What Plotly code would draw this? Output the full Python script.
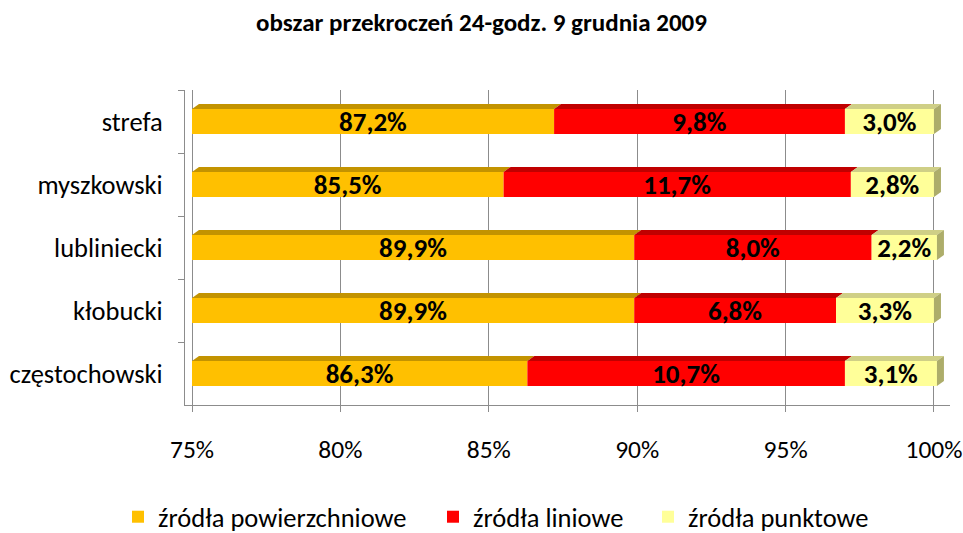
import plotly.graph_objects as go

# ---- data ----
categories = ["strefa", "myszkowski", "lubliniecki", "kłobucki", "częstochowski"]
powierzchniowe = [87.2, 85.5, 89.9, 89.9, 86.3]
liniowe = [9.8, 11.7, 8.0, 6.8, 10.7]
punktowe = [3.0, 2.8, 2.2, 3.3, 3.1]
series_names = ["źródła powierzchniowe", "źródła liniowe", "źródła punktowe"]
x_tick_vals = [75, 80, 85, 90, 95, 100]
x_tick_text = ["75%", "80%", "85%", "90%", "95%", "100%"]
title_text = "obszar przekroczeń 24-godz. 9 grudnia 2009"

# ---- style ----
W, H = 963, 533
ML, MR, MT, MB = 185, 13, 90, 128
X_MIN, X_MAX = 74.764, 100.54
AXIS_BASE = 75
BAR_W = 0.4
DEPTH_X_PX, DEPTH_Y_PX = 7, 5
face_colors = ["#FFC000", "#FF0000", "#FFFF99"]
top_colors = ["#C39300", "#C00000", "#CFCF86"]
side_color = "#ADAD6A"
FONT = "Carlito, Lato, sans-serif"
legend_text_left_px = [158, 473, 688]
LEGEND_CY_PX = 517

px_per_unit_x = (W - ML - MR) / (X_MAX - X_MIN)
px_per_cat = (H - MT - MB) / len(categories)
dxu = DEPTH_X_PX / px_per_unit_x
dyu = DEPTH_Y_PX / px_per_cat


def fmt(v):
    return f"{v:.1f}%".replace(".", ",")


series = [powierzchniowe, liniowe, punktowe]
bases = [
    [AXIS_BASE] * len(categories),
    powierzchniowe,
    [a + b for a, b in zip(powierzchniowe, liniowe)],
]
lengths = [
    [v - AXIS_BASE for v in powierzchniowe],
    liniowe,
    punktowe,
]
legend_ids = ["legend", "legend2", "legend3"]

fig = go.Figure()
for k in range(3):
    fig.add_trace(go.Bar(
        y=categories,
        x=lengths[k],
        base=bases[k],
        orientation="h",
        name=series_names[k],
        legend=legend_ids[k],
        showlegend=True,
        width=BAR_W,
        marker=dict(color=face_colors[k], line=dict(width=0)),
        text=[fmt(v) for v in series[k]],
        textposition="inside",
        insidetextanchor="middle",
        textangle=0,
        constraintext="none",
        textfont=dict(family=FONT, size=27, color="black", weight="bold"),
        hoverinfo="skip",
    ))

# 3D top and side faces built from the data
shapes = []
for k in range(3):
    for i in range(len(categories)):
        b = bases[k][i]
        e = b + lengths[k][i]
        yt = i - BAR_W / 2
        yb = i + BAR_W / 2
        shapes.append(dict(
            type="path", xref="x", yref="y", layer="above",
            path=f"M {b},{yt} L {e},{yt} L {e + dxu},{yt - dyu} L {b + dxu},{yt - dyu} Z",
            fillcolor=top_colors[k], line=dict(width=0),
        ))
        if k == 2:
            shapes.append(dict(
                type="path", xref="x", yref="y", layer="above",
                path=f"M {e},{yt} L {e + dxu},{yt - dyu} L {e + dxu},{yb - dyu} L {e},{yb} Z",
                fillcolor=side_color, line=dict(width=0),
            ))

legend_common = dict(
    orientation="h", xref="container", xanchor="left",
    yref="container", yanchor="middle", y=(H - LEGEND_CY_PX) / H,
    font=dict(family=FONT, size=26.5, color="black"),
    bgcolor="rgba(0,0,0,0)",
)
legends = {}
for k, lid in enumerate(legend_ids):
    legends[lid] = dict(legend_common, x=(legend_text_left_px[k] - 40) / W)

fig.update_layout(
    width=W, height=H,
    showlegend=True,
    margin=dict(l=ML, r=MR, t=MT, b=MB, autoexpand=False),
    paper_bgcolor="white", plot_bgcolor="white",
    barmode="overlay",
    shapes=shapes,
    title=dict(text=f"<b>{title_text}</b>", x=0.5, xref="container", xanchor="center",
               y=1 - 22 / H, yref="container", yanchor="middle",
               font=dict(family=FONT, size=25, color="black")),
    xaxis=dict(range=[X_MIN, X_MAX], tickvals=x_tick_vals, ticktext=x_tick_text,
               showgrid=True, gridcolor="#8C8C8C", gridwidth=1,
               showline=True, linecolor="#8C8C8C", linewidth=1,
               ticks="outside", ticklen=6, tickcolor="#8C8C8C",
               ticklabelstandoff=15, zeroline=False, automargin=False,
               tickfont=dict(family=FONT, size=25.5, color="black")),
    yaxis=dict(autorange="reversed", showgrid=False,
               showline=True, linecolor="#8C8C8C", linewidth=1,
               ticks="outside", ticklen=6, tickcolor="#8C8C8C", tickson="boundaries",
               ticklabelstandoff=16, automargin=False,
               tickfont=dict(family=FONT, size=26.5, color="black")),
    **legends,
)

fig.write_html("out.html", config={"displayModeBar": False},
               post_script="document.body.style.margin='0';")
